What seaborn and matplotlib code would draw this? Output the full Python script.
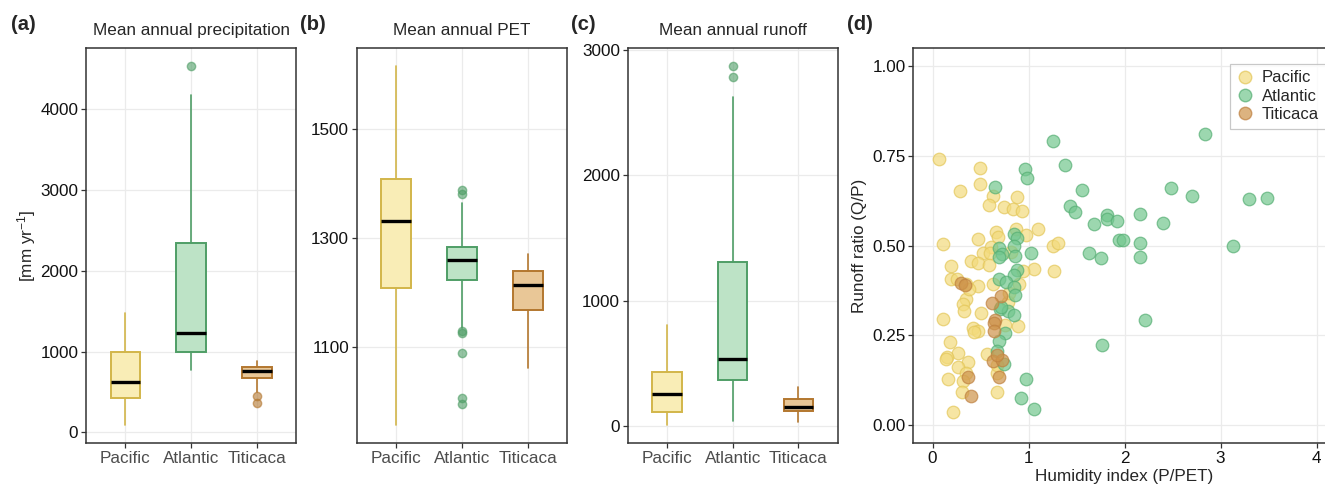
import numpy as np
import pandas as pd
import matplotlib
matplotlib.use("Agg")
import matplotlib.pyplot as plt
from matplotlib.lines import Line2D
import seaborn as sns

# regions and colours
regions = ["Pacific", "Atlantic", "Titicaca"]
box_fill = ["#F9EDB6", "#BDE3C6", "#E9C797"]
box_edge = ["#D2B64A", "#4F9E66", "#B3772F"]
pt_fill = ["#F3DB7C", "#72C68E", "#CE934A"]
pt_edge = ["#E3C658", "#55AE73", "#BE8040"]

# box statistics
precip_med = [627, 1234, 764]
precip_q1 = [425, 994, 672]
precip_q3 = [990, 2339, 804]
precip_lo = [87, 767, 500]
precip_hi = [1481, 4171, 882]
precip_out = [[], [4538], [449, 363]]

pet_med = [1331, 1259, 1213]
pet_q1 = [1209, 1223, 1168]
pet_q3 = [1408, 1284, 1240]
pet_lo = [956, 1134, 1061]
pet_hi = [1617, 1364, 1270]
pet_out = [[], [1388, 1382, 1129, 1125, 1088, 1007, 995], []]

runoff_med = [260, 539, 157]
runoff_q1 = [117, 368, 122]
runoff_q3 = [432, 1305, 220]
runoff_lo = [8, 42, 34]
runoff_hi = [803, 2625, 313]
runoff_out = [[], [2872, 2779], []]

# humidity index vs runoff ratio
pacific_x = [0.07, 0.49, 0.29, 0.49, 0.63, 0.59, 0.88, 0.74, 0.84, 0.93, 1.10, 0.87,
             0.66, 0.68, 0.47, 0.97, 0.11, 1.26, 1.31, 0.61, 0.53, 0.60, 0.82, 0.40,
             0.47, 0.59, 0.19, 1.06, 1.27, 0.94, 0.19, 0.26, 0.35, 0.47, 0.63, 0.90,
             0.79, 0.80, 0.35, 0.32, 0.33, 0.50, 0.11, 0.75, 0.89, 0.42, 0.47, 0.43,
             0.18, 0.57, 0.27, 0.15, 0.14, 0.37, 0.27, 0.35, 0.67, 0.16, 0.32, 0.31,
             0.67, 0.21, 0.38, 0.67]
pacific_y = [0.740, 0.716, 0.651, 0.671, 0.638, 0.614, 0.634, 0.606, 0.601, 0.597, 0.547, 0.545,
             0.537, 0.524, 0.519, 0.530, 0.505, 0.499, 0.508, 0.495, 0.478, 0.479, 0.481, 0.456,
             0.452, 0.445, 0.442, 0.434, 0.429, 0.428, 0.406, 0.406, 0.392, 0.387, 0.392, 0.394,
             0.344, 0.367, 0.352, 0.336, 0.319, 0.313, 0.296, 0.280, 0.275, 0.270, 0.263, 0.259,
             0.231, 0.197, 0.200, 0.190, 0.185, 0.176, 0.162, 0.146, 0.146, 0.130, 0.123, 0.093,
             0.093, 0.038, 0.379, 0.169]
atlantic_x = [2.84, 1.38, 1.56, 1.43, 1.48, 1.68, 1.82, 1.82, 1.92, 2.16, 2.48, 2.70,
              2.40, 3.30, 3.48, 1.94, 1.98, 2.16, 3.13, 1.63, 1.75, 2.16, 2.21, 1.77,
              0.65, 0.96, 0.98, 1.25, 0.85, 0.88, 0.85, 0.69, 0.72, 0.69, 0.86, 1.03,
              0.88, 0.85, 0.69, 0.77, 0.85, 0.70, 0.79, 0.85, 0.75, 0.69, 0.67, 0.74,
              0.97, 0.92, 1.06, 0.86, 0.71]
atlantic_y = [0.811, 0.723, 0.653, 0.609, 0.592, 0.560, 0.584, 0.573, 0.567, 0.588, 0.661, 0.638,
              0.562, 0.630, 0.632, 0.515, 0.515, 0.506, 0.500, 0.478, 0.464, 0.468, 0.294, 0.222,
              0.662, 0.712, 0.688, 0.791, 0.531, 0.521, 0.500, 0.492, 0.475, 0.469, 0.471, 0.480,
              0.431, 0.419, 0.407, 0.398, 0.384, 0.323, 0.318, 0.308, 0.257, 0.234, 0.206, 0.171,
              0.130, 0.076, 0.045, 0.361, 0.328]
titicaca_x = [0.30, 0.34, 0.71, 0.62, 0.65, 0.64, 0.64, 0.63, 0.72, 0.37, 0.69, 0.40, 0.67]
titicaca_y = [0.395, 0.390, 0.360, 0.339, 0.292, 0.285, 0.263, 0.178, 0.181, 0.134, 0.134, 0.081, 0.195]

sns.set_style("white")
plt.rcParams["font.family"] = ["Liberation Sans", "DejaVu Sans"]
plt.rcParams["mathtext.fontset"] = "custom"
plt.rcParams["mathtext.rm"] = "Liberation Sans"
plt.rcParams["mathtext.it"] = "Liberation Sans:italic"

W, H = 1325, 486
fig = plt.figure(figsize=(W / 100, H / 100), dpi=100)


def px_axes(left, right, top=47.7, bottom=443.3):
    return fig.add_axes([left / W, 1 - bottom / H, (right - left) / W, (bottom - top) / H])


def style_axes(ax):
    for s in ax.spines.values():
        s.set_color("#333333")
        s.set_linewidth(1.1)
    ax.grid(True, color="#EBEBEB", linewidth=0.9)
    ax.set_axisbelow(True)
    ax.tick_params(axis="both", direction="out", length=3.5, width=0.9, color="#333333",
                   labelsize=12.3, pad=2, bottom=True, left=True)
    ax.tick_params(axis="y", labelcolor="#111111")


def draw_boxes(ax, med, q1, q3, lo, hi, out, title, yticks):
    stats = []
    for i in range(3):
        stats.append(dict(med=med[i], q1=q1[i], q3=q3[i], whislo=lo[i], whishi=hi[i],
                          fliers=out[i], label=regions[i]))
    arts = ax.bxp(stats, positions=[0, 1, 2], widths=0.45, patch_artist=True,
                  showcaps=False, manage_ticks=False)
    for i in range(3):
        arts["boxes"][i].set_facecolor(box_fill[i])
        arts["boxes"][i].set_edgecolor(box_edge[i])
        arts["boxes"][i].set_linewidth(1.4)
        arts["medians"][i].set_color("black")
        arts["medians"][i].set_linewidth(2.4)
        for w in arts["whiskers"][2 * i:2 * i + 2]:
            w.set_color(box_edge[i])
            w.set_linewidth(1.2)
        f = arts["fliers"][i]
        f.set_marker("o")
        f.set_markerfacecolor(box_edge[i])
        f.set_markeredgecolor(box_edge[i])
        f.set_markersize(6)
        f.set_alpha(0.6)
    allv = lo + hi + sum(out, [])
    vmin, vmax = min(allv), max(allv)
    pad = (vmax - vmin) * 0.05
    ax.set_ylim(vmin - pad, vmax + pad)
    ax.set_xlim(-0.6, 2.6)
    ax.set_xticks([0, 1, 2])
    ax.set_xticklabels(regions)
    ax.set_yticks(yticks)
    ax.set_title(title, fontsize=12.3, pad=9)
    style_axes(ax)
    ax.tick_params(axis="x", labelcolor="#4D4D4D")


ax_a = px_axes(86, 296.3)
draw_boxes(ax_a, precip_med, precip_q1, precip_q3, precip_lo, precip_hi, precip_out,
           "Mean annual precipitation", [0, 1000, 2000, 3000, 4000])
ax_a.set_ylabel("[mm yr$^{-1}$]", fontsize=12.3, labelpad=2)

ax_b = px_axes(356.7, 567.3)
draw_boxes(ax_b, pet_med, pet_q1, pet_q3, pet_lo, pet_hi, pet_out,
           "Mean annual PET", [1100, 1300, 1500])

ax_c = px_axes(627.7, 837.7)
draw_boxes(ax_c, runoff_med, runoff_q1, runoff_q3, runoff_lo, runoff_hi, runoff_out,
           "Mean annual runoff", [0, 1000, 2000, 3000])

# scatter panel
ax_d = px_axes(913.3, 1335.7)
groups = [(pacific_x, pacific_y), (atlantic_x, atlantic_y), (titicaca_x, titicaca_y)]
handles = []
for i, (gx, gy) in enumerate(groups):
    df = pd.DataFrame({"hi": gx, "rr": gy})
    sns.scatterplot(data=df, x="hi", y="rr", ax=ax_d, s=82, color=pt_fill[i],
                    edgecolor=pt_edge[i], linewidth=0.9, alpha=0.7, legend=False, zorder=3)
    handles.append(Line2D([], [], marker="o", linestyle="", markersize=9,
                          markerfacecolor=pt_fill[i], markeredgecolor=pt_edge[i],
                          alpha=0.7, label=regions[i]))
ax_d.set_xlim(-0.2, 4.2)
ax_d.set_ylim(-0.05, 1.05)
ax_d.set_xticks([0, 1, 2, 3, 4])
ax_d.set_yticks([0, 0.25, 0.5, 0.75, 1.0])
ax_d.set_yticklabels(["0.00", "0.25", "0.50", "0.75", "1.00"])
ax_d.set_xlabel("Humidity index (P/PET)", fontsize=12.3, labelpad=2)
ax_d.set_ylabel("Runoff ratio (Q/P)", fontsize=12.3, labelpad=4)
style_axes(ax_d)
ax_d.tick_params(axis="x", labelcolor="#111111")
leg = ax_d.legend(handles=handles, loc="upper left", bbox_to_anchor=(1222 / W, 1 - 55.5 / H),
                  bbox_transform=fig.transFigure, fontsize=12, frameon=True, fancybox=False,
                  handletextpad=0.5, labelspacing=0.2, borderpad=0.4, handlelength=1.0)
leg.get_frame().set_edgecolor("#BBBBBB")
leg.get_frame().set_linewidth(0.9)

# panel letters
for lab, xp in [("(a)", 11), ("(b)", 300), ("(c)", 571), ("(d)", 847)]:
    fig.text(xp / W, 1 - 25 / H, lab, fontsize=14.5, fontweight="bold", va="center", ha="left")

fig.savefig("out.png", dpi=100)
